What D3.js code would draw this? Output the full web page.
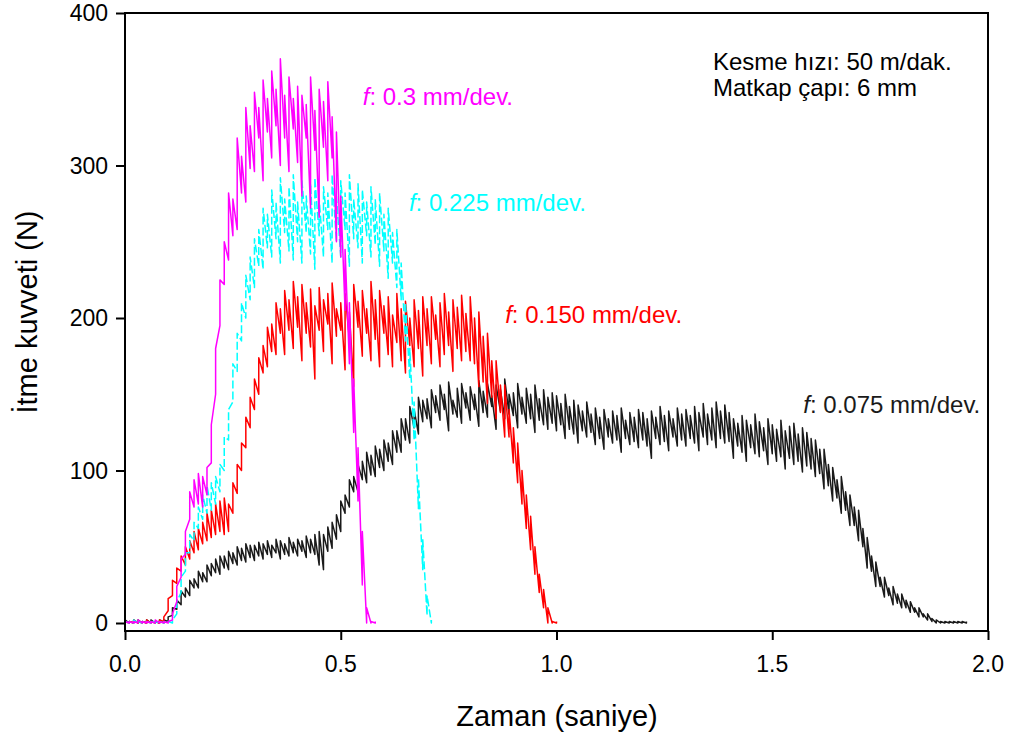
<!DOCTYPE html>
<html>
<head>
<meta charset="utf-8">
<script src="https://cdn.jsdelivr.net/npm/d3@7"></script>
<style>
  body { margin: 0; background: #fff; overflow: hidden; }
  svg { display: block; }
  text { font-family: Arial, "Liberation Sans", sans-serif; }
</style>
</head>
<body>
<div id="chart"></div>
<script>
// sample step of the force traces (s)
const sampleStep = 0.01;

// f: 0.075 mm/dev. (black) – lower / upper edge of the noisy trace, t = 0 .. 1.95
const blackLo = [
  0,0,0,0,0,0,0,0,0,0,
  1,5,9,12,17,18,23,23,27,27,
  31,33,32,36,35,39,38,41,40,43,
  41,44,42,45,43,46,42,45,44,46,
  44,47,43,46,45,38,35,47,49,55,
  60,72,76,86,86,94,92,97,96,102,
  100,106,104,112,112,120,118,128,124,132,
  134,128,138,133,140,126,137,135,131,141,
  133,140,129,138,135,142,127,139,134,137,
  136,128,137,131,134,125,133,130,127,131,
  126,130,121,127,124,118,126,122,125,117,
  121,114,122,118,120,112,121,117,119,115,
  120,116,108,121,117,119,113,122,116,120,
  116,121,118,113,122,117,120,115,121,118,
  119,108,116,112,106,115,111,109,113,104,
  111,106,109,101,108,104,106,99,103,101,
  96,98,88,90,80,82,72,74,64,64,
  54,50,36,34,24,24,17,18,12,13,
  10,10,7,7,4,4,2,1,0,0,
  0,0,0,0,0,0
];
const blackHi = [
  2,1,2,2,1,2,2,1,2,2,
  4,10,15,21,23,28,29,34,33,38,
  39,42,44,44,47,46,50,49,52,51,
  51,53,52,54,51,55,54,52,56,53,
  55,54,57,55,58,60,58,63,66,71,
  80,84,94,96,104,106,112,110,116,114,
  120,118,126,126,134,134,142,140,148,146,
  147,153,149,156,150,158,146,154,157,151,
  155,150,159,152,157,149,156,153,160,150,
  151,157,148,154,150,156,147,153,148,151,
  149,144,150,142,146,143,139,145,137,141,
  135,140,134,139,136,141,133,138,135,140,
  138,134,139,135,142,136,139,134,141,137,
  140,136,142,138,144,137,141,145,139,143,
  138,134,131,136,133,130,137,132,128,134,
  130,127,133,126,129,131,124,128,125,121,
  120,114,114,104,102,94,96,86,84,76,
  74,62,56,44,40,30,30,23,24,19,
  19,15,14,10,10,6,6,3,2,1,
  1,1,1,1,1,1
];

// f: 0.150 mm/dev. (red), t = 0 .. 1.00
const redLo = [
  0,0,0,0,0,0,0,0,0,1,
  8,18,26,34,38,42,46,48,52,54,
  56,58,60,58,60,72,85,100,115,128,
  140,150,164,168,178,176,190,176,192,180,
  194,172,190,181,160,192,178,196,170,188,
  192,166,186,155,194,175,190,172,186,168,
  190,176,168,184,172,164,182,168,180,162,
  182,170,186,168,176,182,165,180,172,178,
  172,170,155,158,144,148,134,138,122,122,
  105,92,78,62,48,32,20,10,0,0,
  0
];
const redHi = [
  1,1,2,1,1,2,1,1,2,4,
  16,28,36,44,50,54,60,62,66,72,
  74,78,80,82,78,92,104,118,135,148,
  160,174,182,194,196,210,206,218,212,224,
  214,222,210,219,208,220,212,216,223,206,
  210,216,204,222,211,218,206,224,212,218,
  208,214,202,216,206,211,200,212,205,214,
  206,214,202,210,216,204,212,207,215,203,
  214,200,204,188,190,172,172,156,156,140,
  128,118,100,84,70,50,32,22,10,1,
  1
];

// f: 0.225 mm/dev. (cyan), t = 0 .. 0.71
const cyanLo = [
  0,0,0,0,0,0,0,0,0,0,
  0,0,6,20,34,46,54,62,68,72,
  74,78,86,100,120,145,165,185,200,212,
  220,234,232,246,240,252,236,256,244,238,
  250,236,256,242,232,254,240,258,236,250,
  240,258,234,252,246,236,254,240,248,234,
  244,226,236,220,212,185,160,120,75,35,
  5,0
];
const cyanHi = [
  1,1,2,1,1,1,2,1,1,1,
  1,2,14,30,46,58,66,76,84,90,
  92,96,104,122,140,170,190,210,228,240,
  252,258,272,268,284,276,292,278,286,294,
  276,290,280,288,292,278,286,282,294,280,
  290,282,294,278,288,284,276,286,278,282,
  268,272,256,258,236,210,180,145,95,55,
  18,2
];

// f: 0.3 mm/dev. (magenta), t = 0 .. 0.58
const magentaLo = [
  0,0,0,0,0,0,0,0,0,0,
  0,2,14,30,45,68,76,78,76,84,
  105,150,195,222,238,254,258,282,276,298,
  296,318,290,322,305,326,300,318,296,324,
  302,280,318,272,310,266,312,290,305,250,
  240,205,170,125,80,25,0,0,0
];
const magentaHi = [
  1,1,1,2,1,1,1,2,1,1,
  1,6,24,42,60,86,94,98,96,102,
  130,180,225,250,282,278,318,306,338,326,
  348,338,356,344,362,350,370,346,358,344,
  352,346,340,358,336,350,342,355,332,322,
  280,245,210,160,115,60,10,1,1
];

const xTicks = [0, 0.5, 1.0, 1.5, 2.0];
const yTicks = [0, 100, 200, 300, 400];

const series = [
  { name: '0.075', lo: blackLo, hi: blackHi, color: '#1a1a1a', dash: null },
  { name: '0.150', lo: redLo, hi: redHi, color: '#ff0000', dash: null },
  { name: '0.225', lo: cyanLo, hi: cyanHi, color: '#00ffff', dash: '8,3' },
  { name: '0.3', lo: magentaLo, hi: magentaHi, color: '#ff00ff', dash: null }
];

const labels = [
  { text: ': 0.3 mm/dev.', t: 0.551, v: 340, color: '#ff00ff' },
  { text: ': 0.225 mm/dev.', t: 0.658, v: 270, color: '#00ffff' },
  { text: ': 0.150 mm/dev.', t: 0.881, v: 197, color: '#ff0000' },
  { text: ': 0.075 mm/dev.', t: 1.572, v: 138, color: '#1a1a1a' }
];

const notes = ['Kesme hızı: 50 m/dak.', 'Matkap çapı: 6 mm'];

const width = 1015, height = 740;
const margin = { left: 125, top: 13, right: 27, bottom: 109 };
const innerWidth = width - margin.left - margin.right;
const innerHeight = height - margin.top - margin.bottom;
// y = 0 sits 8px above the bottom frame line
const zeroOffset = 8;

const svg = d3.select('#chart')
  .append('svg')
  .attr('width', width)
  .attr('height', height);

const g = svg.append('g')
  .attr('transform', `translate(${margin.left},${margin.top})`);

const xScale = d3.scaleLinear().domain([0, 2]).range([0, innerWidth]);
const yScale = d3.scaleLinear().domain([0, 400]).range([innerHeight - zeroOffset, 0]);

// traces: zig-zag between the lower and upper edge at each sample
const line = d3.line()
  .x(d => xScale(d.t))
  .y(d => yScale(d.v));

series.forEach(s => {
  const pts = [];
  s.lo.forEach((lo, i) => {
    const t = i * sampleStep;
    pts.push({ t, v: lo });
    pts.push({ t, v: s.hi[i] });
  });
  g.append('path')
    .datum(pts)
    .attr('fill', 'none')
    .attr('stroke', s.color)
    .attr('stroke-width', 1.5)
    .attr('stroke-linejoin', 'round')
    .attr('stroke-dasharray', s.dash)
    .attr('d', line);
});

// frame
g.append('rect')
  .attr('x', 0).attr('y', 0)
  .attr('width', innerWidth).attr('height', innerHeight)
  .attr('fill', 'none')
  .attr('stroke', '#000')
  .attr('stroke-width', 2);

// axes (tick marks only, labels drawn below)
const xAxis = g.append('g')
  .attr('transform', `translate(0,${innerHeight})`)
  .call(d3.axisBottom(xScale).tickValues(xTicks).tickFormat('').tickSize(9).tickSizeOuter(0));
xAxis.select('.domain').remove();

const yAxis = g.append('g')
  .call(d3.axisLeft(yScale).tickValues(yTicks).tickFormat('').tickSize(9).tickSizeOuter(0));
yAxis.select('.domain').remove();

g.selectAll('.tick line').attr('stroke', '#000').attr('stroke-width', 2);
g.selectAll('.tick text').remove();

g.append('g')
  .selectAll('text')
  .data(xTicks)
  .join('text')
  .attr('x', d => xScale(d))
  .attr('y', innerHeight + 41)
  .attr('text-anchor', 'middle')
  .style('font-size', '23px')
  .text(d => d3.format('.1f')(d));

g.append('g')
  .selectAll('text')
  .data(yTicks)
  .join('text')
  .attr('x', -17)
  .attr('y', d => yScale(d) + 8)
  .attr('text-anchor', 'end')
  .style('font-size', '23px')
  .text(d => d);

// axis titles
svg.append('text')
  .attr('x', 557)
  .attr('y', 726)
  .attr('text-anchor', 'middle')
  .style('font-size', '29px')
  .text('Zaman (saniye)');

svg.append('text')
  .attr('transform', 'translate(37,312) rotate(-90)')
  .attr('text-anchor', 'middle')
  .style('font-size', '29px')
  .text('İtme kuvveti (N)');

// notes
svg.append('g')
  .selectAll('text')
  .data(notes)
  .join('text')
  .attr('x', 713)
  .attr('y', (d, i) => 70 + i * 26)
  .style('font-size', '24px')
  .attr('fill', '#000')
  .text(d => d);

// series labels
labels.forEach(l => {
  const txt = g.append('text')
    .attr('x', xScale(l.t))
    .attr('y', yScale(l.v))
    .attr('fill', l.color)
    .style('font-size', '24px');
  txt.append('tspan').style('font-style', 'italic').text('f');
  txt.append('tspan').text(l.text);
});
</script>
</body>
</html>
